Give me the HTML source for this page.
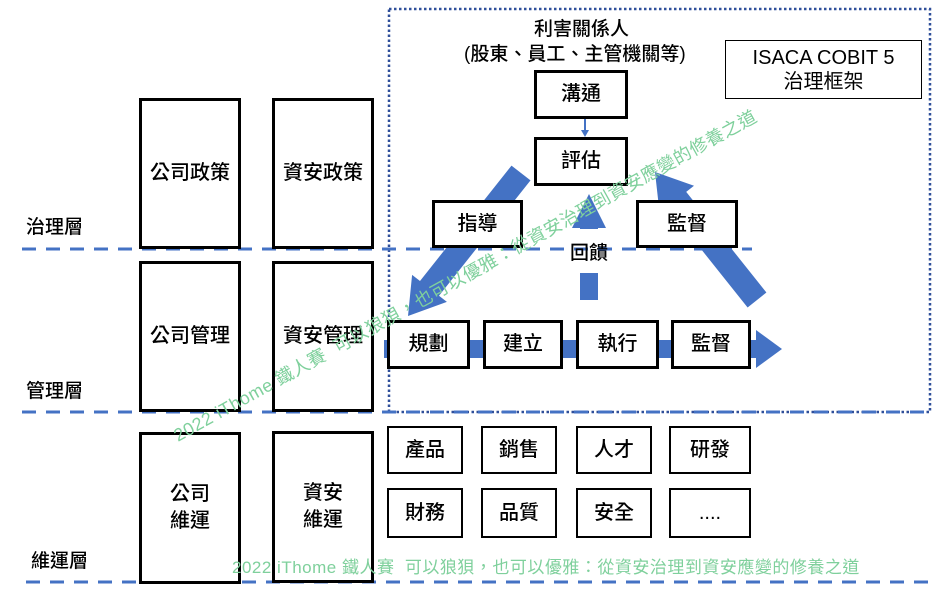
<!DOCTYPE html>
<html><head><meta charset="utf-8"><style>
body{margin:0;width:950px;height:599px;background:#fff;position:relative;overflow:hidden;font-family:"Liberation Sans","Noto Sans CJK TC",sans-serif;}
.b{position:absolute;border:3px solid #000;box-sizing:border-box;display:flex;align-items:center;justify-content:center;text-align:center;font-size:20px;line-height:27px;color:#000;background:#fff;font-weight:500}
.t{position:absolute;font-size:19px;color:#000;white-space:nowrap;font-weight:500}
.wm{position:absolute;color:#7fd09c;font-size:17px;white-space:nowrap;letter-spacing:0.5px}
</style></head><body>
<svg width="950" height="599" style="position:absolute;left:0;top:0">
<rect x="389" y="9" width="541" height="403" fill="none" stroke="#2f4f9a" stroke-width="2.5" stroke-dasharray="2.5 2.5"/>
<g stroke="#4472c4" stroke-width="3" stroke-dasharray="14 10">
<line x1="22" y1="249" x2="752" y2="249"/>
<line x1="22" y1="412" x2="930" y2="412"/>
<line x1="26" y1="582" x2="930" y2="582"/>
</g>
<g fill="#4472c4">
<rect x="384" y="340" width="374" height="18"/>
<polygon points="756,330 782,349 756,368"/>
<line x1="585" y1="118" x2="585" y2="134" stroke="#4472c4" stroke-width="2"/>
<polygon points="581,130 589,130 585,137"/>
<rect x="580" y="273" width="18" height="27"/>
<polygon points="572,228 606,228 589,194"/>
<rect x="580" y="226" width="18" height="3"/>
<polygon points="530.5,180.4 439,295.8 446.9,301.9 408,316 412.1,274.9 420,281 511.5,165.6"/>
<polygon points="766.4,292.5 686.2,191.9 694,185.7 655,172 659.6,213.1 667.4,206.9 747.6,307.5"/>
</g>
</svg>
<div class="b" style="left:139px;top:98px;width:102px;height:151px">公司政策</div>
<div class="b" style="left:272px;top:98px;width:102px;height:151px">資安政策</div>
<div class="b" style="left:139px;top:261px;width:102px;height:151px">公司管理</div>
<div class="b" style="left:272px;top:261px;width:102px;height:151px">資安管理</div>
<div class="b" style="left:139px;top:432px;width:102px;height:152px">公司<br>維運</div>
<div class="b" style="left:272px;top:431px;width:102px;height:152px">資安<br>維運</div>
<div class="t" style="left:26px;top:212px">治理層</div>
<div class="t" style="left:26px;top:376px">管理層</div>
<div class="t" style="left:31px;top:546px">維運層</div>
<div class="t" style="left:534px;top:14px">利害關係人</div>
<div class="t" style="left:464px;top:39px">(股東、員工、主管機關等)</div>
<div class="b" style="left:725px;top:40px;width:197px;height:59px;border-width:1.5px;font-size:20px;line-height:24px;font-weight:normal">ISACA COBIT 5<br>治理框架</div>
<div class="b" style="left:534px;top:70px;width:94px;height:49px">溝通</div>
<div class="b" style="left:534px;top:137px;width:94px;height:49px">評估</div>
<div class="b" style="left:432px;top:200px;width:91px;height:48px">指導</div>
<div class="b" style="left:636px;top:200px;width:102px;height:48px">監督</div>
<div class="t" style="left:570px;top:238px">回饋</div>
<div class="b" style="left:387px;top:320px;width:83px;height:49px">規劃</div>
<div class="b" style="left:483px;top:320px;width:80px;height:49px">建立</div>
<div class="b" style="left:576px;top:320px;width:83px;height:49px">執行</div>
<div class="b" style="left:671px;top:320px;width:80px;height:49px">監督</div>
<div class="b" style="left:387px;top:426px;width:76px;height:48px;border-width:2px">產品</div>
<div class="b" style="left:481px;top:426px;width:76px;height:48px;border-width:2px">銷售</div>
<div class="b" style="left:576px;top:426px;width:76px;height:48px;border-width:2px">人才</div>
<div class="b" style="left:669px;top:426px;width:82px;height:48px;border-width:2px">研發</div>
<div class="b" style="left:387px;top:488px;width:76px;height:50px;border-width:2px">財務</div>
<div class="b" style="left:481px;top:488px;width:76px;height:50px;border-width:2px">品質</div>
<div class="b" style="left:576px;top:488px;width:76px;height:50px;border-width:2px">安全</div>
<div class="b" style="left:669px;top:488px;width:82px;height:50px;border-width:2px">....</div>
<div class="wm" style="left:232px;top:553px">2022 iThome 鐵人賽&nbsp; 可以狼狽，也可以優雅：從資安治理到資安應變的修養之道</div>
<div class="wm" style="left:132px;top:258px;transform:rotate(-29deg);transform-origin:50% 50%;width:680px;font-size:18px">2022 iThome 鐵人賽&nbsp; 可以狼狽，也可以優雅：從資安治理到資安應變的修養之道</div>
</body></html>
